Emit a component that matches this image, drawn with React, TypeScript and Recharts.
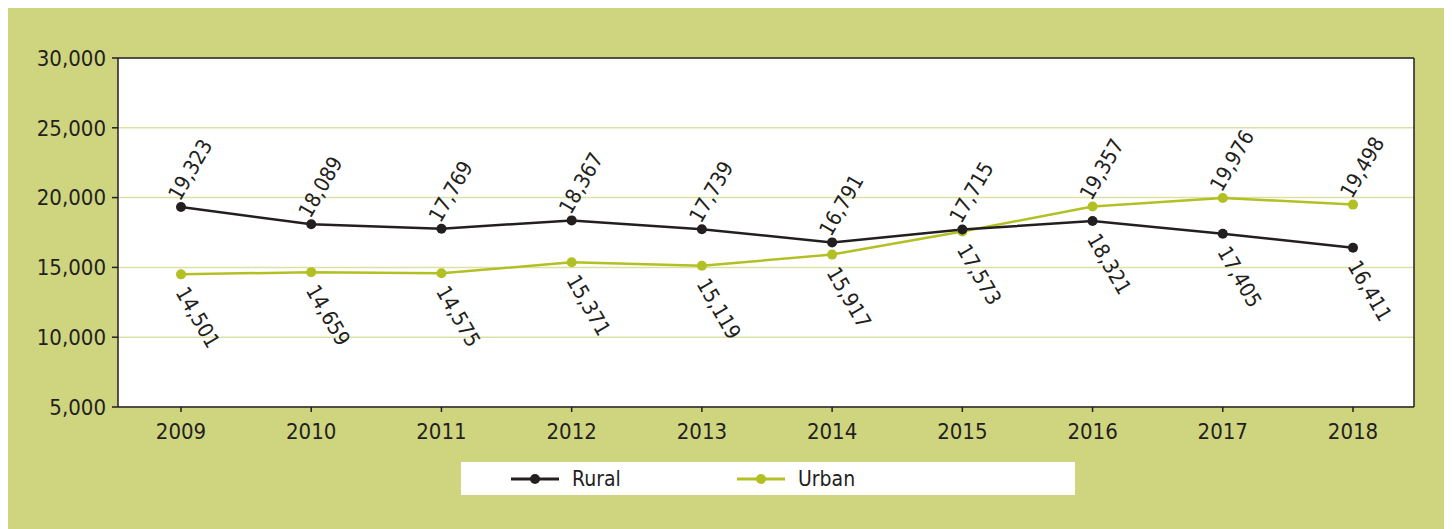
import { LineChart, Line, XAxis, YAxis, CartesianGrid, LabelList, ReferenceLine } from 'recharts'

const years = ['2009', '2010', '2011', '2012', '2013', '2014', '2015', '2016', '2017', '2018']
const rural = [19323, 18089, 17769, 18367, 17739, 16791, 17715, 18321, 17405, 16411]
const urban = [14501, 14659, 14575, 15371, 15119, 15917, 17573, 19357, 19976, 19498]
const yTicks = [5000, 10000, 15000, 20000, 25000, 30000]

const data = years.map((year, i) => ({ year, rural: rural[i], urban: urban[i] }))

const FONT = '"Liberation Sans Narrow", "DejaVu Sans Condensed", "Liberation Sans", sans-serif'
const INK = '#231f20'
const LIME = '#b3c024'
const BG = '#cfd47f'

const fmt = (v: number) => v.toLocaleString('en-US')

// label goes above the point when this series is the higher one, below otherwise
function makeLabel(own: number[], other: number[]) {
  return (props: any) => {
    const { x, y, value, index } = props
    const above = own[index] >= other[index]
    const lx = above ? x - 1 : x - 6
    const ly = above ? y - 5 : y + 18
    return (
      <text x={lx} y={ly} transform={`rotate(${above ? -60 : 60} ${lx} ${ly})`} textAnchor="start"
        fontFamily={FONT} fontSize={21} fill={INK}>
        {fmt(value)}
      </text>
    )
  }
}

function LegendBox() {
  const item = (color: string, name: string, lx: number) => (
    <div style={{ position: 'absolute', left: lx, top: 0, height: 33, display: 'flex', alignItems: 'center' }}>
      <svg width={50} height={33}>
        <line x1={0} y1={17} x2={48} y2={17} stroke={color} strokeWidth={3} />
        <circle cx={24} cy={17} r={5} fill={color} />
      </svg>
      <span style={{ fontFamily: FONT, fontSize: 21, color: INK, marginLeft: 11 }}>{name}</span>
    </div>
  )
  return (
    <div style={{ position: 'absolute', left: 454, top: 455, width: 614, height: 33, background: '#fff' }}>
      {item(INK, 'Rural', 50)}
      {item(LIME, 'Urban', 276)}
    </div>
  )
}

export default function App() {
  return (
    <div style={{ position: 'relative', margin: '-1px 0 0 -1px', width: 1439, height: 522, background: BG }}>
      <LineChart width={1439} height={522} data={data} margin={{ top: 51, right: 31, bottom: 0, left: 0 }}>
        <CartesianGrid fill="#fff" stroke="#dbe1a6" strokeWidth={1.5} vertical={false} />
        <XAxis dataKey="year" padding={{ left: 63, right: 61 }} height={122} tickSize={5} tickMargin={11}
          stroke={INK} strokeWidth={1.5} tick={{ fill: INK, fontSize: 22, fontFamily: FONT }} />
        <YAxis domain={[5000, 30000]} ticks={yTicks} width={111} tickSize={6} tickMargin={6}
          tickFormatter={fmt} stroke={INK} strokeWidth={1.5} tick={{ fill: INK, fontSize: 22, fontFamily: FONT }} />
        <YAxis yAxisId="r" orientation="right" width={1} tick={false} domain={[5000, 30000]} stroke={INK} strokeWidth={1.5} />
        <ReferenceLine y={30000} stroke={INK} strokeWidth={1.5} />
        <Line dataKey="urban" stroke={LIME} strokeWidth={2.5} dot={{ r: 5, fill: LIME, stroke: LIME, strokeWidth: 0 }}
          isAnimationActive={false}>
          <LabelList dataKey="urban" content={makeLabel(urban, rural)} />
        </Line>
        <Line dataKey="rural" stroke={INK} strokeWidth={2.5} dot={{ r: 5, fill: INK, stroke: INK, strokeWidth: 0 }}
          isAnimationActive={false}>
          <LabelList dataKey="rural" content={makeLabel(rural, urban)} />
        </Line>
      </LineChart>
      <LegendBox />
    </div>
  )
}
